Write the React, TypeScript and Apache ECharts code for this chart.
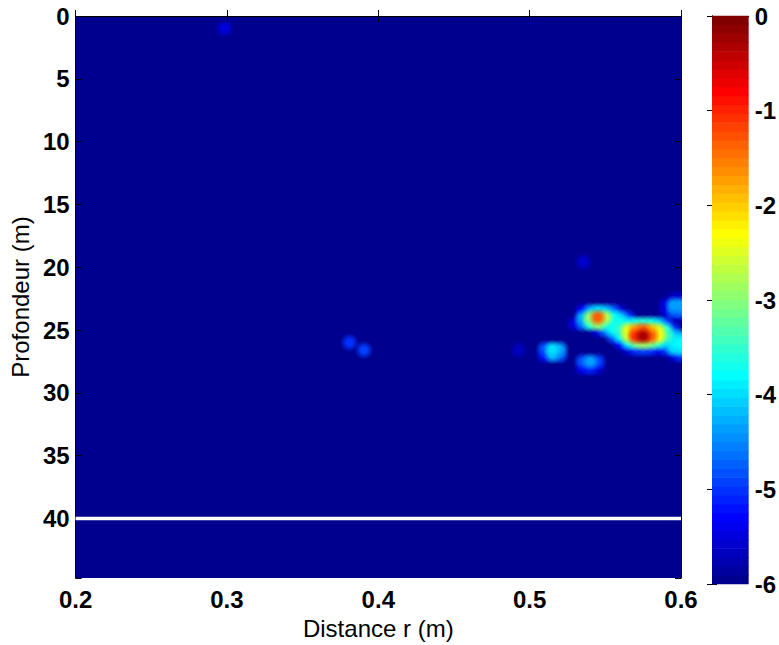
import React, { useEffect, useRef } from "react";
import * as echarts from "echarts";

// ---- data ----
const xTickLabels = ["0.2", "0.3", "0.4", "0.5", "0.6"];
const yTickLabels = ["0", "5", "10", "15", "20", "25", "30", "35", "40"];
const colorbarTicks = [0, -1, -2, -3, -4, -5, -6];

// grid of the anomaly region (x columns, y rows), log10 values, -6 = background
const gridX = [0.505, 0.51, 0.515, 0.52, 0.525, 0.53, 0.535, 0.54, 0.545, 0.55, 0.555, 0.56, 0.565, 0.57, 0.575, 0.58, 0.585, 0.59, 0.595, 0.6];
const gridY = [22.5, 23, 23.5, 24, 24.5, 25, 25.5, 26, 26.5, 27, 27.5, 28];
const gridValues = [
  // 22.5
  [-6, -6, -6, -6, -6, -6, -6, -6, -6, -6, -6, -6, -6, -6, -6, -6, -6, -6, -5.7, -5.6],
  // 23
  [-6, -6, -6, -6, -6, -6, -6, -6, -6, -6, -6, -6, -6, -6, -6, -6, -6, -5.5, -4.4, -4.4],
  // 23.5
  [-6, -6, -6, -6, -6, -6, -5.3, -4.4, -4.0, -4.2, -4.7, -5.6, -6, -6, -6, -6, -6, -5.6, -4.7, -4.6],
  // 24
  [-6, -6, -6, -6, -6, -6, -4.3, -3.0, -1.4, -2.8, -3.8, -4.2, -5.0, -6, -6, -6, -6, -6, -5.7, -5.7],
  // 24.5
  [-6, -6, -6, -6, -6, -5.5, -4.6, -3.6, -3.0, -3.6, -3.8, -3.7, -3.9, -3.7, -3.6, -3.7, -4.1, -4.9, -6, -6],
  // 25
  [-6, -6, -6, -6, -6, -6, -6, -6, -5.5, -4.6, -3.9, -3.5, -2.5, -1.7, -1.4, -1.9, -2.6, -3.6, -5.0, -6],
  // 25.5
  [-6, -6, -6, -6, -6, -6, -6, -6, -6, -6, -4.8, -3.9, -2.7, -1.1, -0.3, -1.4, -2.4, -3.4, -4.1, -4.4],
  // 26
  [-6, -6, -6, -6, -6, -6, -6, -6, -6, -6, -6, -5.2, -4.0, -3.2, -2.9, -3.1, -3.6, -4.2, -3.9, -3.8],
  // 26.5
  [-6, -4.8, -4.0, -4.4, -6, -6, -6, -6, -6, -6, -6, -6, -5.6, -5.0, -4.9, -5.0, -5.5, -5.0, -4.1, -4.0],
  // 27
  [-6, -5.2, -4.3, -4.7, -6, -6, -6, -6, -6, -6, -6, -6, -6, -6, -6, -6, -6, -6, -5.6, -5.0],
  // 27.5
  [-6, -6, -6, -6, -6, -6, -4.8, -4.4, -4.9, -6, -6, -6, -6, -6, -6, -6, -6, -6, -6, -6],
  // 28
  [-6, -6, -6, -6, -6, -6, -5.4, -5.1, -5.6, -6, -6, -6, -6, -6, -6, -6, -6, -6, -6, -6],
];
// isolated faint spots [x, y, value]
const spots = [
  [0.2985, 1.0, -5.5],
  [0.381, 26.0, -5.0],
  [0.3905, 26.6, -4.9],
  [0.4928, 26.6, -5.7],
  [0.5355, 19.6, -5.6],
];
const gapDepth = 40; // white (missing) row
const xRange = [0.2, 0.6];
const yRange = [0, 44.75];
const cRange = [-6, 0];

// ---- colormap (MATLAB jet, 64 levels) ----
const clamp = (v: number) => Math.max(0, Math.min(1, v));
const JET_RGB: number[][] = Array.from({ length: 64 }, (_, i) => {
  const t = (i + 1) / 64;
  return [
    Math.round(clamp(1.5 - Math.abs(4 * t - 3)) * 255),
    Math.round(clamp(1.5 - Math.abs(4 * t - 2)) * 255),
    Math.round(clamp(1.5 - Math.abs(4 * t - 1)) * 255),
  ];
});
const JET = JET_RGB.map((c) => `rgb(${c[0]},${c[1]},${c[2]})`);
const jetIndex = (v: number) => {
  const idx = Math.floor(((v - cRange[0]) / (cRange[1] - cRange[0])) * 64);
  return Math.max(0, Math.min(63, idx));
};

const CELL_DX = 0.005;
const CELL_DY = 0.5;

const FONT = "'Liberation Sans Narrow', 'Arial Narrow', 'Liberation Sans', Arial, sans-serif";

export default function App() {
  const ref = useRef<HTMLDivElement>(null);
  useEffect(() => {
    if (!ref.current) return;
    const chart = echarts.init(ref.current, undefined, { renderer: "svg" });

    const cells: number[][] = [];
    gridValues.forEach((row, j) =>
      row.forEach((v, i) => {
        if (v > cRange[0]) cells.push([gridX[i], gridY[j], v]);
      })
    );
    spots.forEach((s) => cells.push(s));
    cells.sort((a, b) => a[2] - b[2]); // higher values drawn on top

    const bars = JET.map((_, i) => [0, i]);
    const step = (cRange[1] - cRange[0]) / JET.length;

    const tickStyle = { show: true, inside: true, length: 6, lineStyle: { color: "#000", width: 1 } };
    const lineStyle = { show: true, lineStyle: { color: "#000", width: 1 } };
    const labelStyle = { color: "#000", fontFamily: FONT, fontWeight: "bold" as const, fontSize: 24 };
    const nameStyle = { color: "#000", fontFamily: FONT, fontSize: 24 };

    chart.setOption({
      animation: false,
      backgroundColor: "#fff",
      grid: [
        { left: 74, top: 16, width: 607, height: 567, show: true, backgroundColor: JET[0], borderWidth: 0 },
        { left: 712, top: 16, width: 39, height: 568, show: false },
      ],
      xAxis: [
        {
          gridIndex: 0, type: "value", min: xRange[0], max: xRange[1], interval: 0.1, position: "bottom",
          axisLine: lineStyle, axisTick: tickStyle, splitLine: { show: false },
          axisLabel: { ...labelStyle, margin: 9, formatter: (v: number) => { const s = v.toFixed(1); return xTickLabels.includes(s) ? s : ""; } },
          name: "Distance r (m)", nameLocation: "middle", nameGap: 37,
          nameTextStyle: nameStyle,
        },
        {
          gridIndex: 0, type: "value", min: xRange[0], max: xRange[1], interval: 0.1, position: "top",
          axisLine: lineStyle, axisTick: tickStyle, axisLabel: { show: false }, splitLine: { show: false },
        },
        { gridIndex: 1, type: "value", min: 0, max: 1, position: "bottom", axisLine: lineStyle, axisTick: { show: false }, axisLabel: { show: false }, splitLine: { show: false } },
        { gridIndex: 1, type: "value", min: 0, max: 1, position: "top", axisLine: lineStyle, axisTick: { show: false }, axisLabel: { show: false }, splitLine: { show: false } },
      ],
      yAxis: [
        {
          gridIndex: 0, type: "value", inverse: true, min: yRange[0], max: yRange[1], interval: 5, position: "left",
          axisLine: lineStyle, axisTick: tickStyle, splitLine: { show: false },
          axisLabel: { ...labelStyle, margin: 6, formatter: (v: number) => (yTickLabels.includes(String(v)) ? String(v) : "") },
          name: "Profondeur (m)", nameLocation: "middle", nameGap: 42,
          nameTextStyle: nameStyle,
        },
        {
          gridIndex: 0, type: "value", inverse: true, min: yRange[0], max: yRange[1], interval: 5, position: "right",
          axisLine: lineStyle, axisTick: tickStyle, axisLabel: { show: false }, splitLine: { show: false },
        },
        {
          gridIndex: 1, type: "value", min: cRange[0], max: cRange[1], interval: 1, position: "right",
          axisLine: lineStyle, axisTick: { ...tickStyle, length: 5 }, splitLine: { show: false },
          axisLabel: { ...labelStyle, margin: 6, formatter: (v: number) => (colorbarTicks.includes(v) ? String(v) : "") },
        },
        {
          gridIndex: 1, type: "value", min: cRange[0], max: cRange[1], interval: 1, position: "left",
          axisLine: lineStyle, axisTick: { ...tickStyle, length: 5 }, axisLabel: { show: false }, splitLine: { show: false },
        },
      ],
      series: [
        {
          type: "custom",
          xAxisIndex: 0,
          yAxisIndex: 0,
          data: cells,
          clip: true,
          renderItem: (params: any, api: any) => {
            const x = api.value(0), y = api.value(1), v = api.value(2);
            const c = api.coord([x, y]);
            const s = api.size([CELL_DX, CELL_DY]);
            const r = Math.max(s[0], s[1]) * 1.25;
            const rgb = JET_RGB[jetIndex(v)];
            const solid = `rgba(${rgb[0]},${rgb[1]},${rgb[2]},1)`;
            const clear = `rgba(${rgb[0]},${rgb[1]},${rgb[2]},0)`;
            return {
              type: "circle",
              shape: { cx: c[0], cy: c[1], r },
              style: {
                fill: {
                  type: "radial", x: 0.5, y: 0.5, r: 0.5,
                  colorStops: [
                    { offset: 0, color: solid },
                    { offset: 0.3, color: solid },
                    { offset: 1, color: clear },
                  ],
                },
              },
            };
          },
        },
        {
          type: "line",
          xAxisIndex: 0,
          yAxisIndex: 0,
          data: [[xRange[0], gapDepth], [xRange[1], gapDepth]],
          symbol: "none",
          lineStyle: { color: "#fff", width: 3.5 },
          z: 3,
        },
        {
          type: "custom",
          xAxisIndex: 2,
          yAxisIndex: 2,
          data: bars,
          renderItem: (params: any, api: any) => {
            const i = api.value(1);
            const a = api.coord([0, cRange[0] + i * step]);
            const b = api.coord([1, cRange[0] + (i + 1) * step]);
            return {
              type: "rect",
              shape: { x: Math.min(a[0], b[0]), y: Math.min(a[1], b[1]) - 0.3, width: Math.abs(b[0] - a[0]), height: Math.abs(b[1] - a[1]) + 0.6 },
              style: { fill: JET[i] },
            };
          },
        },
      ],
    });
    return () => chart.dispose();
  }, []);
  return <div ref={ref} style={{ position: "fixed", left: 0, top: 0, width: 779, height: 645 }} />;
}
